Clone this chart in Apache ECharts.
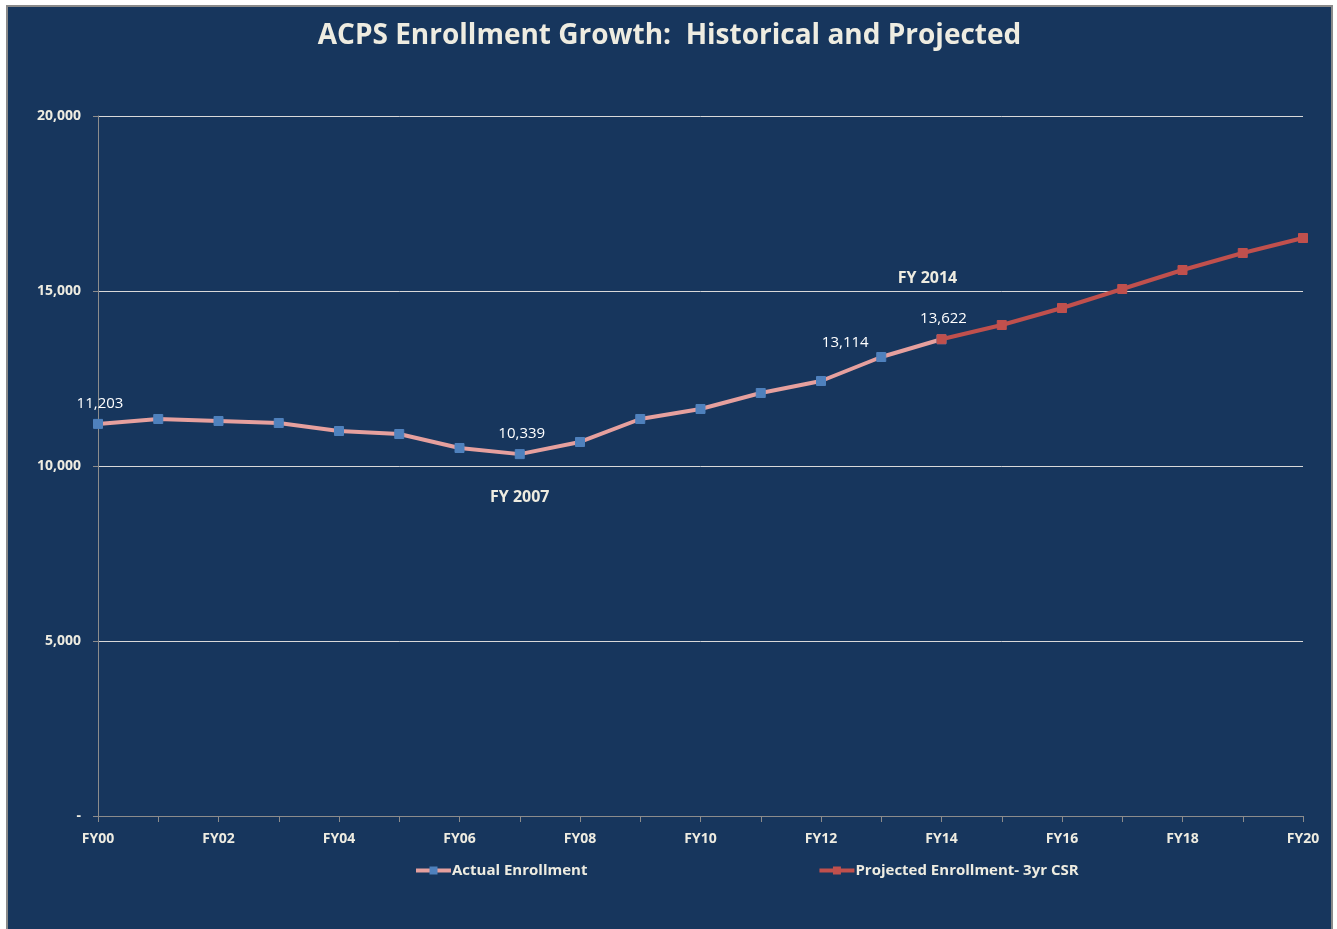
<!DOCTYPE html>
<html>
<head>
<meta charset="utf-8">
<script src="https://cdn.jsdelivr.net/npm/echarts@6/dist/echarts.min.js"></script>
<style>
  html, body { margin:0; padding:0; background:#ffffff; width:1337px; height:929px; overflow:hidden; }
  #frame { position:absolute; left:6px; top:5px; width:1323px; height:940px; background:#17365D; border:2px solid #8a8a8a; overflow:hidden; }
  #chart { position:absolute; left:0; top:0; width:1323px; height:922px; }
</style>
</head>
<body>
<div id="frame"><div id="chart"></div></div>
<script>
const categories = ['FY00','FY01','FY02','FY03','FY04','FY05','FY06','FY07','FY08','FY09','FY10',
                    'FY11','FY12','FY13','FY14','FY15','FY16','FY17','FY18','FY19','FY20'];
const actualEnrollment = [11203, 11343, 11286, 11229, 11000, 10914, 10514, 10339, 10686, 11343, 11629,
                          12086, 12429, 13114, 13622];
const projectedEnrollment = [13622, 14029, 14514, 15057, 15600, 16086, 16514];
const projectedStart = 14; // index of FY14
const yTicks = [0, 5000, 10000, 15000, 20000];
const annotations = [
  { name: 'FY 2007', cat: 'FY07', value: 10339, offset: [0, 43] },
  { name: 'FY 2014', cat: 'FY14', value: 13622, offset: [-14, -61] }
];

const cream = '#EEECE1';
const fmt = v => v === 0 ? '-' : v.toLocaleString('en-US');

const actualData = actualEnrollment.map((v, i) => {
  if (i === 13) {
    return { value: v, label: { show: true, position: 'top', distance: 8, offset: [-36, 6] } };
  }
  if (i === 0 || i === 7) {
    return { value: v, label: { show: true, position: 'top', distance: 8, offset: [2, 0] } };
  }
  return v;
});
const projectedData = categories.map((c, i) => {
  if (i < projectedStart) return '-';
  const v = projectedEnrollment[i - projectedStart];
  if (i === projectedStart) {
    return { value: v, label: { show: true, position: 'top', distance: 8, offset: [2, 0] } };
  }
  return v;
});

const chart = echarts.init(document.getElementById('chart'));
chart.setOption({
  backgroundColor: '#17365D',
  animation: false,
  title: {
    text: 'ACPS Enrollment Growth:  Historical and Projected',
    left: 'center',
    top: 10,
    textStyle: { color: cream, fontFamily: 'Open Sans', fontWeight: 'bold', fontSize: 28 }
  },
  grid: { left: 90, top: 109, width: 1205, height: 700, containLabel: false },
  legend: {
    bottom: 46,
    left: 401,
    itemGap: 230,
    itemWidth: 35,
    itemHeight: 10,
    lineStyle: { width: 4 },
    textStyle: { color: cream, fontFamily: 'Open Sans', fontWeight: 'bold', fontSize: 15, padding: [0,0,0,-4] },
    data: ['Actual Enrollment', 'Projected Enrollment- 3yr CSR']
  },
  xAxis: {
    type: 'category',
    data: categories,
    boundaryGap: false,
    axisLine: { lineStyle: { color: '#8c8c8c', width: 1 } },
    axisTick: { show: true, length: 6, interval: 0, lineStyle: { color: '#8c8c8c' } },
    axisLabel: { interval: 1, color: cream, fontFamily: 'Open Sans', fontWeight: 'bold', fontSize: 14, margin: 16 },
    splitLine: { show: false }
  },
  yAxis: {
    type: 'value',
    min: 0, max: 20000, interval: 5000,
    axisLine: { show: true, lineStyle: { color: '#8c8c8c', width: 1 } },
    axisTick: { show: true, length: 5, lineStyle: { color: '#8c8c8c' } },
    axisLabel: { color: cream, fontFamily: 'Open Sans', fontWeight: 'bold', fontSize: 14, margin: 17,
                 formatter: v => yTicks.includes(v) ? fmt(v) : '' },
    splitLine: { lineStyle: { color: '#d9d9d9', width: 1 } }
  },
  series: [
    {
      name: 'Actual Enrollment',
      type: 'line',
      data: actualData,
      symbol: 'rect',
      symbolSize: 9,
      lineStyle: { color: '#E6A09E', width: 4 },
      itemStyle: { color: '#4F81BD', borderColor: '#4F81BD' },
      label: { show: false, color: '#ffffff', fontFamily: 'Open Sans', fontSize: 15, formatter: p => fmt(p.value) },
      z: 2,
      markPoint: {
        symbol: 'circle', symbolSize: 0,
        label: { show: true, color: cream, fontFamily: 'Open Sans', fontWeight: 'bold', fontSize: 16,
                 formatter: p => p.name },
        data: annotations.map(a => ({ name: a.name, coord: [a.cat, a.value], label: { offset: a.offset } }))
      }
    },
    {
      name: 'Projected Enrollment- 3yr CSR',
      type: 'line',
      data: projectedData,
      symbol: 'rect',
      symbolSize: 9,
      lineStyle: { color: '#C0504D', width: 4 },
      itemStyle: { color: '#C0504D', borderColor: '#C0504D' },
      label: { show: false, color: '#ffffff', fontFamily: 'Open Sans', fontSize: 15, formatter: p => fmt(p.value) },
      z: 3
    }
  ]
});
</script>
</body>
</html>
